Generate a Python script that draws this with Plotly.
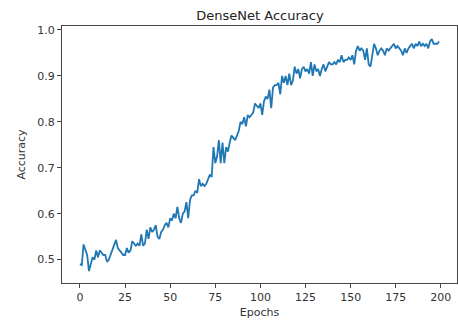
import plotly.graph_objects as go

epochs = list(range(200))
accuracy = [
    0.490, 0.488, 0.533, 0.520, 0.510, 0.475, 0.490, 0.505, 0.500, 0.520,
    0.505, 0.520, 0.515, 0.510, 0.510, 0.495, 0.500, 0.510, 0.520, 0.530,
    0.543, 0.525, 0.520, 0.515, 0.510, 0.510, 0.525, 0.515, 0.520, 0.540,
    0.535, 0.530, 0.535, 0.530, 0.555, 0.530, 0.535, 0.565, 0.545, 0.570,
    0.560, 0.565, 0.575, 0.550, 0.545, 0.560, 0.565, 0.575, 0.580, 0.570,
    0.590, 0.585, 0.600, 0.590, 0.615, 0.590, 0.580, 0.600, 0.605, 0.625,
    0.590, 0.630, 0.640, 0.640, 0.650, 0.645, 0.675, 0.660, 0.665, 0.660,
    0.665, 0.675, 0.685, 0.680, 0.745, 0.710, 0.725, 0.760, 0.710, 0.755,
    0.710, 0.745, 0.735, 0.755, 0.770, 0.765, 0.760, 0.770, 0.780, 0.800,
    0.795, 0.810, 0.790, 0.815, 0.810, 0.815, 0.820, 0.840, 0.835, 0.830,
    0.840, 0.815, 0.845, 0.855, 0.850, 0.870, 0.830, 0.875, 0.880, 0.880,
    0.885, 0.860, 0.900, 0.885, 0.900, 0.880, 0.905, 0.880, 0.890, 0.920,
    0.905, 0.915, 0.895, 0.915, 0.920, 0.910, 0.915, 0.905, 0.930, 0.900,
    0.925, 0.910, 0.915, 0.900, 0.915, 0.925, 0.910, 0.920, 0.930, 0.925,
    0.925, 0.930, 0.925, 0.935, 0.930, 0.945, 0.930, 0.935, 0.935, 0.940,
    0.935, 0.945, 0.925, 0.955, 0.965, 0.955, 0.960, 0.955, 0.935, 0.960,
    0.925, 0.920, 0.945, 0.970, 0.960, 0.945, 0.955, 0.960, 0.955, 0.945,
    0.960, 0.955, 0.960, 0.965, 0.970, 0.960, 0.965, 0.960, 0.955, 0.945,
    0.960, 0.950, 0.960, 0.965, 0.970, 0.960, 0.970, 0.965, 0.975, 0.965,
    0.970, 0.965, 0.970, 0.960, 0.975, 0.980, 0.970, 0.970, 0.970, 0.975,
]

x_ticks = [0, 25, 50, 75, 100, 125, 150, 175, 200]
y_ticks = [0.5, 0.6, 0.7, 0.8, 0.9, 1.0]
y_tick_labels = ["0.5", "0.6", "0.7", "0.8", "0.9", "1.0"]

fig = go.Figure()
fig.add_trace(go.Scatter(
    x=epochs, y=accuracy, mode="lines",
    line=dict(color="#1f77b4", width=1.8),
    showlegend=False,
))

font = dict(family="DejaVu Sans", size=11, color="#333333")

fig.update_layout(
    width=458, height=321,
    margin=dict(l=62, r=1, t=26, b=38),
    paper_bgcolor="white", plot_bgcolor="white",
    font=font,
    title=dict(text="DenseNet Accuracy", x=260/458, xanchor="center",
               y=1 - 15/321, yanchor="middle", yref="container",
               font=dict(family="DejaVu Sans", size=13, color="#222222")),
)
fig.update_xaxes(
    range=[-9.95, 208.95], tickvals=x_ticks, showgrid=False, zeroline=False,
    showline=True, linecolor="#444444", linewidth=1, mirror=True,
    ticks="outside", ticklen=4, tickcolor="#444444",
    title=dict(text="Epochs", standoff=5, font=font),
)
fig.update_yaxes(
    range=[0.449, 1.0087], tickvals=y_ticks, ticktext=y_tick_labels,
    showgrid=False, zeroline=False,
    showline=True, linecolor="#444444", linewidth=1, mirror=True,
    ticks="outside", ticklen=4, tickcolor="#444444",
    title=dict(text="Accuracy", standoff=9, font=font),
)

fig.write_html("out.html")
